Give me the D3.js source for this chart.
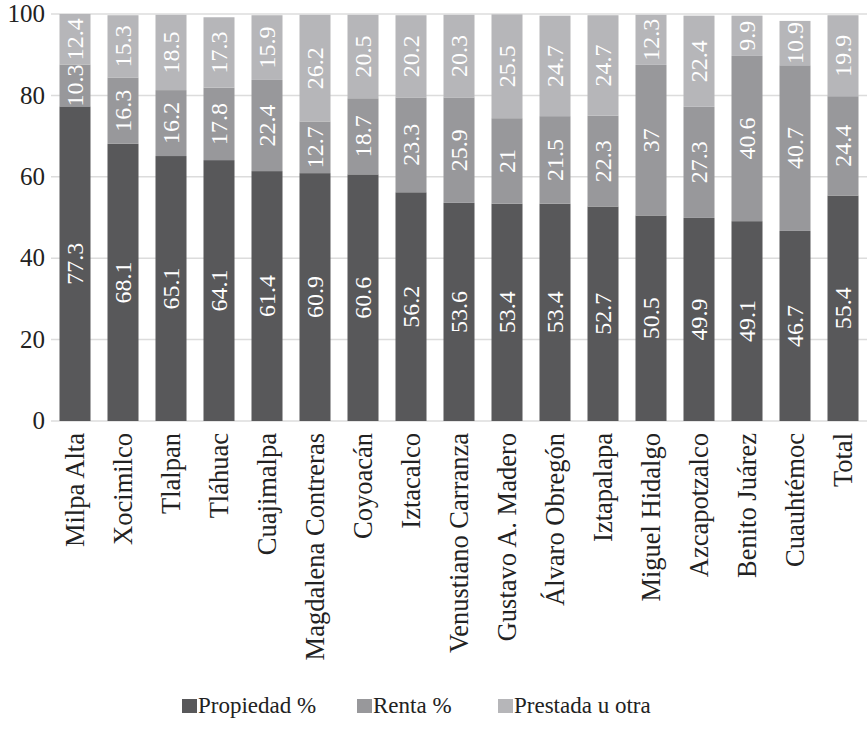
<!DOCTYPE html>
<html>
<head>
<meta charset="utf-8">
<script src="https://cdn.jsdelivr.net/npm/d3@7"></script>
</head>
<body style="margin:0">
<script>
// categories and series
var categories = ["Milpa Alta", "Xocimilco", "Tlalpan", "Tláhuac", "Cuajimalpa", "Magdalena Contreras",
  "Coyoacán", "Iztacalco", "Venustiano Carranza", "Gustavo A. Madero", "Álvaro Obregón", "Iztapalapa",
  "Miguel Hidalgo", "Azcapotzalco", "Benito Juárez", "Cuauhtémoc", "Total"];
var propiedad = [77.3, 68.1, 65.1, 64.1, 61.4, 60.9, 60.6, 56.2, 53.6, 53.4, 53.4, 52.7, 50.5, 49.9, 49.1, 46.7, 55.4];
var renta     = [10.3, 16.3, 16.2, 17.8, 22.4, 12.7, 18.7, 23.3, 25.9, 21, 21.5, 22.3, 37, 27.3, 40.6, 40.7, 24.4];
var prestada  = [12.4, 15.3, 18.5, 17.3, 15.9, 26.2, 20.5, 20.2, 20.3, 25.5, 24.7, 24.7, 12.3, 22.4, 9.9, 10.9, 19.9];
var seriesNames = ["Propiedad %", "Renta %", "Prestada u otra"];
var yTicks = [0, 20, 40, 60, 80, 100];

var colors = ["#58585a", "#98989b", "#b6b6b9"];

var width = 867, height = 734;
var margin = { top: 14, right: 0, bottom: 313, left: 51 };

var svg = d3.select("body").append("svg")
  .attr("width", width)
  .attr("height", height);

var xScale = d3.scaleBand()
  .domain(categories)
  .range([margin.left, width - margin.right])
  .paddingInner(0.354)
  .paddingOuter(0.177);

var yScale = d3.scaleLinear()
  .domain([0, 100])
  .range([height - margin.bottom, margin.top]);

// gridlines
svg.append("g")
  .selectAll("line")
  .data(yTicks)
  .enter()
  .append("line")
  .attr("x1", margin.left)
  .attr("x2", width - margin.right)
  .attr("y1", function(d) { return yScale(d); })
  .attr("y2", function(d) { return yScale(d); })
  .attr("stroke", "#dcdcdc")
  .attr("stroke-width", 1.5);

// y tick labels
svg.append("g")
  .selectAll("text")
  .data(yTicks)
  .enter()
  .append("text")
  .attr("x", 45)
  .attr("y", function(d) { return yScale(d); })
  .attr("dy", "0.33em")
  .attr("text-anchor", "end")
  .attr("font-size", "25px")
  .attr("fill", "#222")
  .text(function(d) { return d; });

// stack data
var rows = categories.map(function(c, i) {
  return { cat: c, s0: propiedad[i], s1: renta[i], s2: prestada[i] };
});
var stack = d3.stack().keys(["s0", "s1", "s2"]);
var layers = stack(rows);

var groups = svg.append("g")
  .selectAll("g")
  .data(layers)
  .enter()
  .append("g")
  .attr("fill", function(d, i) { return colors[i]; });

groups.selectAll("rect")
  .data(function(d) { return d; })
  .enter()
  .append("rect")
  .attr("x", function(d) { return xScale(d.data.cat); })
  .attr("width", xScale.bandwidth())
  .attr("y", function(d) { return yScale(d[1]); })
  .attr("height", function(d) { return yScale(d[0]) - yScale(d[1]); });

// value labels (rotated, white)
groups.selectAll("text")
  .data(function(d) { return d; })
  .enter()
  .append("text")
  .attr("transform", function(d) {
    var cx = xScale(d.data.cat) + xScale.bandwidth() / 2;
    var cy = yScale((d[0] + d[1]) / 2);
    return "translate(" + cx + "," + cy + ") rotate(-90)";
  })
  .attr("text-anchor", "middle")
  .attr("dy", "0.33em")
  .attr("font-size", "24px")
  .attr("fill", "#fff")
  .text(function(d) { return +(d[1] - d[0]).toFixed(1); });

// category labels
svg.append("g")
  .selectAll("text")
  .data(categories)
  .enter()
  .append("text")
  .attr("transform", function(d) {
    return "translate(" + (xScale(d) + xScale.bandwidth() / 2) + "," + (yScale(0) + 12) + ") rotate(-90)";
  })
  .attr("text-anchor", "end")
  .attr("dy", "0.33em")
  .attr("font-size", "26.5px")
  .attr("fill", "#222")
  .text(function(d) { return d; });

// legend
var legendX = [182, 357, 498];
var legend = svg.append("g")
  .selectAll("g")
  .data(seriesNames)
  .enter()
  .append("g")
  .attr("transform", function(d, i) { return "translate(" + legendX[i] + ",713)"; });

legend.append("rect")
  .attr("x", 0)
  .attr("y", -14)
  .attr("width", 15)
  .attr("height", 14)
  .attr("fill", function(d, i) { return colors[i]; });

legend.append("text")
  .attr("x", 16)
  .attr("y", 0)
  .attr("font-size", "23px")
  .attr("fill", "#222")
  .text(function(d) { return d; });
</script>
</body>
</html>
